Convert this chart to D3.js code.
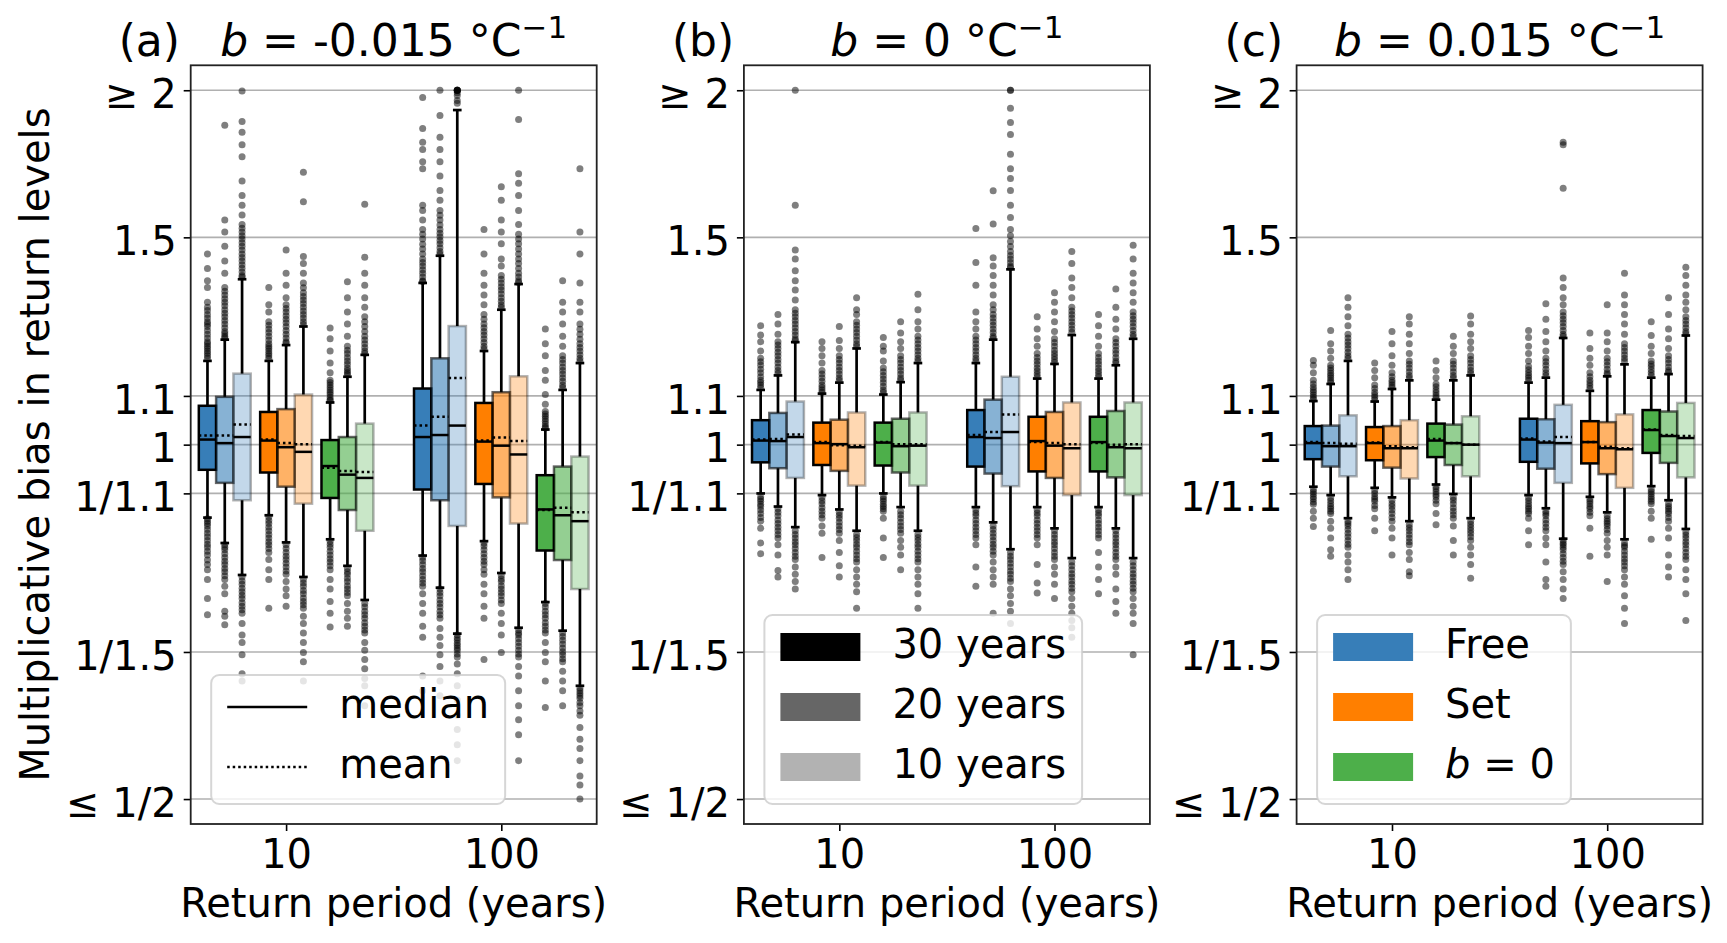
<!DOCTYPE html>
<html><head><meta charset="utf-8">
<script src="https://cdn.jsdelivr.net/npm/d3@7"></script>
<style>body{margin:0;background:#fff;} text{font-family:"DejaVu Sans";}</style>
</head><body><svg id="c" width="1727" height="943"></svg>
<script>
const panelLetters = ["(a)","(b)","(c)"];
const panelB = ["-0.015","0","0.015"];
const periods = ["10","100"];
const methods = ["Free","Set","b = 0"];
const methodColors = ["#377eb8","#ff7f00","#4daf4a"];
const sizes = ["30 years","20 years","10 years"];
const sizeAlpha = [1,0.6,0.3];
const yTickValues = [2,1.5,1.1,1,1/1.1,1/1.5,0.5];
const yTickLabels = ["≥ 2","1.5","1.1","1","1/1.1","1/1.5","≤ 1/2"];

// Box order per row: Free 30/20/10, Set 30/20/10, b=0 30/20/10
// Rows: (a) 10, (a) 100, (b) 10, (b) 100, (c) 10, (c) 100
const q1 = [
 .952,.928,.897, .947,.921,.891, .901,.880,.845,
 .916,.897,.853, .926,.902,.857, .813,.798,.754,
 .966,.955,.937, .961,.950,.923, .960,.947,.923,
 .958,.945,.922, .949,.937,.906, .949,.938,.906,
 .972,.958,.940, .970,.956,.936, .976,.961,.940,
 .967,.954,.928, .964,.944,.919, .984,.965,.938];
const medians = [
 1.010,1.003,1.015, 1.008,.995,.986, .959,.943,.937,
 1.015,1.019,1.038, 1.006,.998,.981, .881,.871,.861,
 1.008,1.007,1.015, 1.003,1.001,.995, 1.004,.997,.998,
 1.015,1.013,1.025, 1.007,.998,.993, 1.005,.995,.993,
 1.003,.997,.997, 1.003,.993,.993, 1.008,1.003,1.000,
 1.010,1.004,1.003, 1.005,.993,.991, 1.029,1.017,1.013];
const q3 = [
 1.079,1.098,1.149, 1.066,1.072,1.103, 1.009,1.015,1.042,
 1.116,1.184,1.261, 1.085,1.108,1.143, .942,.958,.977,
 1.049,1.064,1.088, 1.044,1.050,1.065, 1.044,1.052,1.065,
 1.070,1.092,1.142, 1.056,1.066,1.086, 1.056,1.068,1.086,
 1.037,1.038,1.059, 1.035,1.037,1.049, 1.042,1.040,1.057,
 1.052,1.051,1.081, 1.047,1.045,1.061, 1.070,1.067,1.085];
const means = [
 1.018,1.018,1.040, 1.010,1.003,1.001, .956,.950,.948,
 1.038,1.056,1.139, 1.008,1.014,1.007, .880,.884,.876,
 1.010,1.011,1.020, 1.005,.999,.998, 1.005,1.001,1.001,
 1.019,1.025,1.061, 1.005,1.003,1.001, 1.003,1.000,1.001,
 1.005,1.003,1.002, 1.004,.997,.995, 1.011,1.003,1.000,
 1.012,1.006,1.015, 1.005,.996,.993, 1.030,1.019,1.017];
const whiskerLow = [
 .867,.825,.775, .871,.826,.772, .831,.789,.738,
 .805,.756,.691, .828,.778,.699, .735,.695,.624,
 .909,.886,.851, .906,.881,.845, .909,.885,.845,
 .885,.859,.815, .885,.849,.801, .885,.849,.801,
 .921,.906,.866, .919,.902,.861, .925,.908,.866,
 .906,.883,.832, .903,.876,.831, .922,.897,.848];
const whiskerHigh = [
 1.178,1.228,1.382, 1.178,1.215,1.260, 1.086,1.142,1.192,
 1.372,1.447,1.924, 1.201,1.302,1.369, 1.030,1.113,1.173,
 1.113,1.145,1.222, 1.105,1.129,1.207, 1.103,1.130,1.173,
 1.173,1.228,1.409, 1.138,1.171,1.239, 1.138,1.168,1.230,
 1.089,1.126,1.178, 1.088,1.115,1.134, 1.092,1.134,1.145,
 1.129,1.140,1.232, 1.111,1.143,1.170, 1.140,1.148,1.238];

const fliersHigh = [
 // (a) 10
 [1.184,1.190,1.196,1.201,1.207,1.212,1.218,1.223,1.232,1.241,1.250,1.260,1.266,1.272,1.281,1.290,1.300,1.308,1.321,1.360,1.378,1.411,1.452],
 [1.232,1.236,1.242,1.248,1.257,1.266,1.275,1.284,1.293,1.302,1.312,1.321,1.330,1.340,1.350,1.360,1.398,1.432,1.474,1.516,1.552,1.868],
 [1.388,1.392,1.402,1.412,1.422,1.432,1.442,1.452,1.463,1.474,1.484,1.495,1.505,1.516,1.527,1.538,1.567,1.597,1.628,1.675,1.756,1.798,1.842,1.881,1.997],
 [1.184,1.190,1.195,1.201,1.207,1.212,1.218,1.227,1.236,1.245,1.254,1.263,1.272,1.296,1.315,1.360],
 [1.220,1.223,1.232,1.241,1.250,1.260,1.269,1.278,1.287,1.296,1.305,1.315,1.333,1.366,1.398,1.463],
 [1.265,1.272,1.281,1.290,1.299,1.308,1.318,1.327,1.336,1.346,1.359,1.372,1.398,1.425,1.445,1.608,1.704],
 [1.090,1.092,1.097,1.103,1.108,1.113,1.118,1.124,1.129,1.134,1.151,1.173,1.201,1.230,1.256],
 [1.147,1.151,1.156,1.162,1.170,1.178,1.186,1.195,1.203,1.212,1.236,1.266,1.296,1.333,1.375],
 [1.196,1.201,1.209,1.218,1.227,1.236,1.248,1.260,1.272,1.284,1.308,1.333,1.366,1.398,1.443,1.600],
 // (a) 100
 [1.376,1.378,1.388,1.398,1.408,1.418,1.428,1.438,1.452,1.466,1.480,1.495,1.509,1.523,1.552,1.581,1.597,1.715,1.739,1.781,1.807,1.856,1.972],
 [1.452,1.459,1.470,1.481,1.491,1.502,1.512,1.523,1.537,1.552,1.566,1.581,1.613,1.644,1.691,1.739,1.781,1.824,1.904,2.0],
 [1.95,1.96,1.98,1.99,2.0,2.0,2.0,2.0,2.0],
 [1.206,1.212,1.221,1.230,1.239,1.248,1.257,1.266,1.278,1.290,1.315,1.340,1.366,1.398,1.452,1.523],
 [1.308,1.315,1.324,1.333,1.343,1.353,1.362,1.372,1.382,1.392,1.418,1.438,1.481,1.516,1.552,1.613,1.656],
 [1.373,1.378,1.388,1.398,1.411,1.425,1.438,1.452,1.466,1.481,1.495,1.509,1.538,1.581,1.628,1.667,1.699,1.889,2.0],
 [1.033,1.036,1.041,1.047,1.052,1.057,1.062,1.067,1.082,1.103,1.134,1.156,1.190,1.218,1.254],
 [1.118,1.124,1.132,1.140,1.148,1.156,1.164,1.173,1.181,1.190,1.212,1.236,1.266,1.296,1.321,1.378],
 [1.178,1.184,1.192,1.201,1.209,1.218,1.229,1.241,1.253,1.266,1.296,1.321,1.372,1.452,1.516,1.715],
 // (b) 10
 [1.118,1.124,1.129,1.134,1.142,1.151,1.159,1.168,1.176,1.184,1.201,1.223,1.239,1.262],
 [1.150,1.156,1.164,1.173,1.181,1.190,1.198,1.207,1.215,1.223,1.241,1.266,1.290],
 [1.226,1.230,1.239,1.248,1.257,1.266,1.275,1.284,1.293,1.302,1.327,1.353,1.378,1.405,1.438,1.463,1.597,2.0],
 [1.108,1.113,1.118,1.124,1.132,1.140,1.148,1.156,1.173,1.190,1.207,1.223],
 [1.134,1.140,1.148,1.156,1.164,1.173,1.181,1.190,1.207,1.226,1.260],
 [1.212,1.218,1.227,1.236,1.245,1.254,1.263,1.272,1.290,1.302,1.333],
 [1.108,1.113,1.121,1.129,1.137,1.145,1.153,1.162,1.178,1.201,1.212,1.233],
 [1.135,1.140,1.148,1.156,1.164,1.173,1.181,1.190,1.207,1.223,1.244,1.272],
 [1.178,1.184,1.192,1.201,1.209,1.218,1.227,1.236,1.254,1.272,1.302,1.342],
 // (b) 100
 [1.178,1.184,1.192,1.201,1.209,1.218,1.227,1.236,1.254,1.272,1.296,1.366,1.428,1.526],
 [1.232,1.236,1.245,1.254,1.263,1.272,1.281,1.290,1.302,1.315,1.340,1.366,1.392,1.418,1.441,1.540,1.643],
 [1.414,1.418,1.428,1.438,1.448,1.459,1.473,1.488,1.505,1.523,1.559,1.597,1.644,1.683,1.715,1.765,1.834,1.878,1.931,2.0,2.0],
 [1.142,1.148,1.155,1.162,1.170,1.178,1.186,1.195,1.212,1.230,1.254,1.284],
 [1.175,1.181,1.188,1.195,1.203,1.212,1.221,1.230,1.248,1.272,1.296,1.321,1.346],
 [1.246,1.254,1.263,1.272,1.281,1.290,1.299,1.308,1.333,1.360,1.385,1.425,1.459],
 [1.142,1.148,1.155,1.162,1.170,1.178,1.186,1.195,1.212,1.236,1.262,1.290],
 [1.173,1.178,1.186,1.195,1.203,1.212,1.221,1.230,1.254,1.278,1.308,1.356],
 [1.235,1.241,1.250,1.260,1.269,1.278,1.287,1.296,1.321,1.346,1.372,1.398,1.438,1.477],
 // (c) 10
 [1.093,1.097,1.102,1.108,1.113,1.119,1.126,1.134,1.151,1.168,1.179],
 [1.130,1.134,1.140,1.145,1.150,1.156,1.162,1.168,1.184,1.201,1.218,1.250],
 [1.184,1.190,1.198,1.207,1.215,1.223,1.232,1.241,1.262,1.284,1.308,1.333],
 [1.092,1.097,1.102,1.108,1.116,1.124,1.140,1.156,1.173],
 [1.119,1.124,1.129,1.134,1.142,1.151,1.168,1.190,1.218,1.248],
 [1.139,1.145,1.153,1.162,1.170,1.178,1.195,1.218,1.241,1.266,1.284],
 [1.096,1.101,1.107,1.113,1.120,1.126,1.140,1.156,1.178],
 [1.139,1.145,1.153,1.162,1.170,1.178,1.195,1.212,1.236],
 [1.150,1.156,1.164,1.173,1.181,1.190,1.207,1.223,1.241,1.266,1.286],
 // (c) 100
 [1.134,1.140,1.145,1.151,1.158,1.165,1.178,1.195,1.212,1.233,1.250],
 [1.145,1.151,1.159,1.168,1.176,1.184,1.201,1.223,1.248,1.278,1.317],
 [1.236,1.241,1.250,1.260,1.269,1.278,1.287,1.296,1.315,1.333,1.360,1.385,1.651,1.798,1.807],
 [1.116,1.122,1.128,1.134,1.142,1.151,1.168,1.184,1.207,1.244],
 [1.147,1.151,1.159,1.168,1.176,1.184,1.201,1.223,1.244,1.315],
 [1.177,1.184,1.192,1.201,1.209,1.218,1.241,1.266,1.290,1.315,1.340,1.398],
 [1.145,1.151,1.158,1.165,1.171,1.178,1.195,1.212,1.238,1.272],
 [1.152,1.156,1.164,1.173,1.181,1.190,1.207,1.230,1.254,1.290,1.333],
 [1.242,1.248,1.257,1.266,1.275,1.284,1.302,1.321,1.340,1.366,1.392,1.415]
];
const fliersLow = [
 // (a) 10
 [.865,.861,.857,.853,.847,.841,.835,.829,.823,.818,.812,.806,.798,.791,.783,.768,.740,.717],
 [.822,.818,.814,.808,.802,.796,.791,.785,.780,.774,.768,.758,.747,.722,.715,.703],
 [.772,.766,.761,.755,.750,.745,.740,.734,.729,.724,.719,.705,.689,.679,.663,.639,.630],
 [.868,.862,.857,.851,.845,.839,.833,.827,.822,.816,.810,.799,.783,.768,.726],
 [.822,.816,.810,.804,.799,.793,.787,.781,.776,.765,.754,.744,.729],
 [.768,.763,.758,.752,.747,.741,.736,.731,.726,.715,.705,.692,.679,.666,.654,.630],
 [.828,.823,.818,.812,.806,.800,.795,.789,.783,.768,.754,.736,.719,.700],
 [.785,.780,.776,.770,.765,.759,.754,.749,.744,.733,.722,.712,.701],
 [.733,.728,.722,.717,.712,.706,.701,.696,.692,.679,.669,.657,.645,.633,.624,.600],
 // (a) 100
 [.802,.797,.791,.785,.780,.774,.768,.763,.758,.747,.733,.719,.701,.686,.636,.618],
 [.754,.749,.744,.738,.733,.728,.722,.717,.712,.698,.686,.675,.663,.648,.630,.612],
 [.689,.685,.682,.678,.675,.672,.669,.664,.660,.651,.639,.624,.607,.589,.573,.556,.539],
 [.825,.820,.814,.808,.802,.796,.791,.783,.776,.761,.747,.729,.712,.657],
 [.774,.769,.765,.759,.754,.749,.744,.738,.733,.719,.705,.689,.666],
 [.696,.692,.689,.684,.679,.674,.669,.664,.660,.648,.636,.618,.600,.584,.567,.539],
 [.733,.728,.722,.717,.712,.706,.701,.696,.692,.679,.666,.654,.630,.598],
 [.692,.687,.682,.677,.672,.667,.663,.658,.654,.642,.630,.618,.600],
 [.621,.618,.615,.612,.609,.604,.600,.594,.589,.575,.562,.552,.539,.523,.514,.500],
 // (b) 10
 [.903,.899,.895,.890,.886,.880,.874,.867,.861,.849,.825,.808],
 [.882,.876,.870,.863,.857,.851,.845,.839,.833,.822,.806,.782,.772],
 [.845,.839,.833,.827,.822,.816,.810,.804,.799,.787,.776,.765,.754],
 [.902,.896,.891,.884,.878,.872,.866,.853,.841,.802],
 [.876,.871,.866,.859,.853,.847,.841,.829,.810,.789,.772],
 [.839,.834,.829,.823,.818,.812,.806,.800,.795,.783,.772,.761,.750,.726],
 [.903,.899,.895,.890,.886,.882,.878,.866,.833,.802],
 [.878,.872,.866,.859,.853,.847,.841,.829,.818,.806,.783],
 [.839,.834,.829,.823,.818,.812,.806,.800,.795,.783,.772,.761,.747,.726],
 // (b) 100
 [.880,.875,.870,.863,.857,.851,.845,.839,.833,.822,.787,.758],
 [.853,.847,.841,.835,.829,.823,.818,.812,.806,.795,.783,.772,.761,.719],
 [.810,.804,.799,.793,.787,.781,.776,.770,.765,.754,.744,.733,.722,.705],
 [.880,.875,.870,.863,.857,.851,.845,.839,.833,.822,.791,.763,.748],
 [.845,.839,.833,.827,.822,.816,.810,.804,.799,.787,.776,.761,.740],
 [.795,.789,.783,.777,.772,.766,.761,.755,.750,.740,.729,.719,.709,.699,.686],
 [.880,.875,.870,.863,.857,.851,.845,.839,.833,.810,.787,.768,.747],
 [.845,.839,.833,.827,.822,.816,.810,.804,.799,.787,.776,.754,.736,.719],
 [.795,.789,.783,.777,.772,.766,.761,.755,.750,.740,.729,.719,.705,.663],
 // (c) 10
 [.916,.912,.908,.903,.899,.894,.890,.878,.866,.852],
 [.901,.896,.891,.886,.882,.878,.874,.861,.849,.833,.814,.804],
 [.861,.857,.853,.847,.841,.835,.829,.823,.818,.806,.795,.783,.768],
 [.914,.909,.903,.899,.895,.888,.882,.866,.845],
 [.897,.891,.886,.880,.874,.867,.861,.849,.833,.806],
 [.855,.850,.845,.839,.833,.827,.822,.810,.799,.780,.774],
 [.921,.917,.912,.907,.903,.897,.891,.874,.855],
 [.902,.897,.891,.884,.878,.872,.866,.853,.829,.806],
 [.861,.856,.851,.846,.841,.835,.829,.818,.806,.791,.770],
 // (c) 100
 [.901,.896,.891,.886,.882,.878,.874,.866,.845,.822],
 [.878,.874,.870,.863,.857,.851,.845,.833,.822,.795,.768,.758],
 [.829,.825,.822,.818,.814,.808,.802,.796,.791,.780,.768,.754,.740],
 [.899,.895,.891,.886,.882,.876,.870,.849,.804],
 [.870,.865,.861,.857,.853,.847,.841,.829,.818,.806,.765],
 [.825,.821,.818,.812,.806,.800,.795,.789,.783,.772,.761,.744,.726,.705],
 [.916,.912,.908,.903,.899,.895,.891,.878,.866,.831],
 [.891,.886,.882,.878,.874,.867,.861,.849,.833,.806,.787,.772],
 [.843,.838,.833,.827,.822,.816,.810,.804,.799,.783,.768,.747,.709]
];

const svg = d3.select("#c");
const axTop = 65.3, axBot = 824, axW = 406;
const panelLeft = [190.7, 743.9, 1296.6];
const y = d3.scaleLog().domain([1/2.1, 2.1]).range([axBot, axTop]);
const methodOff = [-0.285, 0, 0.285], sizeOff = [-0.0804, 0, 0.0804], boxW = 0.0804;
const FS = 40, TFS = 44;

panelLeft.forEach((L, p) => {
  const x = d3.scaleLinear().domain([-0.4433, 1.4433]).range([L, L + axW]);
  const g = svg.append("g");
  // grid
  g.selectAll("line.grid").data(yTickValues).join("line")
    .attr("x1", L).attr("x2", L + axW)
    .attr("y1", d => y(d)).attr("y2", d => y(d))
    .attr("stroke", "#b0b0b0").attr("stroke-width", 1.6);

  const bw = x(boxW) - x(0);
  for (let per = 0; per < 2; per++) {
    for (let m = 0; m < 3; m++) {
      for (let s = 0; s < 3; s++) {
        const k = ((p * 2 + per) * 3 + m) * 3 + s;
        const cx = x(per + methodOff[m] + sizeOff[s]);
        const bg = g.append("g");
        // whiskers
        bg.append("line").attr("x1", cx).attr("x2", cx).attr("y1", y(q1[k])).attr("y2", y(whiskerLow[k]))
          .attr("stroke", "#000").attr("stroke-width", 2.7);
        bg.append("line").attr("x1", cx).attr("x2", cx).attr("y1", y(q3[k])).attr("y2", y(whiskerHigh[k]))
          .attr("stroke", "#000").attr("stroke-width", 2.7);
        [whiskerLow[k], whiskerHigh[k]].forEach(v => {
          bg.append("line").attr("x1", cx - bw / 4).attr("x2", cx + bw / 4).attr("y1", y(v)).attr("y2", y(v))
            .attr("stroke", "#000").attr("stroke-width", 2.7);
        });
        // box
        bg.append("rect").attr("x", cx - bw / 2).attr("width", bw)
          .attr("y", y(q3[k])).attr("height", y(q1[k]) - y(q3[k]))
          .attr("fill", methodColors[m]).attr("fill-opacity", sizeAlpha[s])
          .attr("stroke", "#000").attr("stroke-opacity", sizeAlpha[s]).attr("stroke-width", 2.5);
        // median
        bg.append("line").attr("x1", cx - bw / 2).attr("x2", cx + bw / 2)
          .attr("y1", y(medians[k])).attr("y2", y(medians[k]))
          .attr("stroke", "#000").attr("stroke-width", 2.5);
        // mean
        bg.append("line").attr("x1", cx - bw / 2).attr("x2", cx + bw / 2)
          .attr("y1", y(means[k])).attr("y2", y(means[k]))
          .attr("stroke", "#000").attr("stroke-width", 2.5).attr("stroke-dasharray", "2.5,3");
        // fliers
        bg.selectAll("circle").data(fliersHigh[k].concat(fliersLow[k])).join("circle")
          .attr("cx", cx).attr("cy", d => y(d)).attr("r", 3.5)
          .attr("fill", "#000").attr("fill-opacity", 0.5);
      }
    }
  }

  // axes
  const ya = g.append("g").attr("transform", `translate(${L},0)`)
    .call(d3.axisLeft(y).tickValues(yTickValues).tickFormat((d, i) => yTickLabels[i]).tickSize(7).tickPadding(7));
  ya.select(".domain").remove();
  ya.selectAll("line").attr("stroke", "#000").attr("stroke-width", 1.6);
  ya.selectAll("text").attr("font-size", FS).attr("font-family", "DejaVu Sans").attr("fill", "#000").attr("dy", "0.43em");

  const xa = g.append("g").attr("transform", `translate(0,${axBot})`)
    .call(d3.axisBottom(x).tickValues([0, 1]).tickFormat(i => periods[i]).tickSize(7).tickPadding(7));
  xa.select(".domain").remove();
  xa.selectAll("line").attr("stroke", "#000").attr("stroke-width", 1.6);
  xa.selectAll("text").attr("font-size", FS).attr("font-family", "DejaVu Sans").attr("fill", "#000").attr("dy", "0.76em");

  // spines
  g.append("rect").attr("x", L).attr("y", axTop).attr("width", axW).attr("height", axBot - axTop)
    .attr("fill", "none").attr("stroke", "#222").attr("stroke-width", 1.8);

  // titles
  g.append("text").attr("x", L - 72).attr("y", 55.5).attr("font-size", TFS).text(panelLetters[p]);
  const t = g.append("text").attr("x", L + axW / 2).attr("y", 55.5).attr("text-anchor", "middle").attr("font-size", TFS);
  t.append("tspan").attr("font-style", "italic").text("b");
  t.append("tspan").text(` = ${panelB[p]} °C`);
  t.append("tspan").attr("font-size", 31).attr("dy", -18).text("−1");

  // x label
  g.append("text").attr("x", L + axW / 2).attr("y", 916.7).attr("text-anchor", "middle")
    .attr("font-size", FS).text("Return period (years)");
});

// y label
svg.append("text").attr("transform", `translate(49,${(axTop + axBot) / 2}) rotate(-90)`)
  .attr("text-anchor", "middle").attr("font-size", FS).text("Multiplicative bias in return levels");

// legends
function legend(L, rows, drawHandle, drawLabel) {
  const lg = svg.append("g");
  const left = L + 20.5, bottom = axBot - 20;
  const rowY = rows.map((_, i) => bottom - 37 - (rows.length - 1 - i) * 60);
  const top = rowY[0] - 32;
  const frame = lg.append("rect").attr("x", left).attr("y", top).attr("height", bottom - top)
    .attr("rx", 8).attr("fill", "#fff").attr("fill-opacity", 0.8)
    .attr("stroke", "#cccccc").attr("stroke-opacity", 0.8).attr("stroke-width", 2);
  let maxW = 0;
  rows.forEach((r, i) => {
    drawHandle(lg, left + 16, rowY[i], r, i);
    const tx = lg.append("text").attr("x", left + 128).attr("y", rowY[i] + 11).attr("font-size", FS);
    drawLabel(tx, r, i);
    maxW = Math.max(maxW, tx.node().getComputedTextLength());
  });
  frame.attr("width", 128 + maxW + 16);
}
legend(panelLeft[0], ["median", "mean"], (lg, x0, yy, r, i) => {
  lg.append("line").attr("x1", x0).attr("x2", x0 + 80).attr("y1", yy).attr("y2", yy)
    .attr("stroke", "#000").attr("stroke-width", 2.5).attr("stroke-dasharray", i === 1 ? "2.5,3" : null);
}, (tx, r) => tx.text(r));
legend(panelLeft[1], sizes, (lg, x0, yy, r, i) => {
  lg.append("rect").attr("x", x0).attr("y", yy - 14).attr("width", 80).attr("height", 28)
    .attr("fill", "#000").attr("fill-opacity", sizeAlpha[i]);
}, (tx, r) => tx.text(r));
legend(panelLeft[2], methods, (lg, x0, yy, r, i) => {
  lg.append("rect").attr("x", x0).attr("y", yy - 14).attr("width", 80).attr("height", 28)
    .attr("fill", methodColors[i]);
}, (tx, r, i) => {
  if (i === 2) { tx.append("tspan").attr("font-style", "italic").text("b"); tx.append("tspan").text(" = 0"); }
  else tx.text(r);
});
</script></body></html>
